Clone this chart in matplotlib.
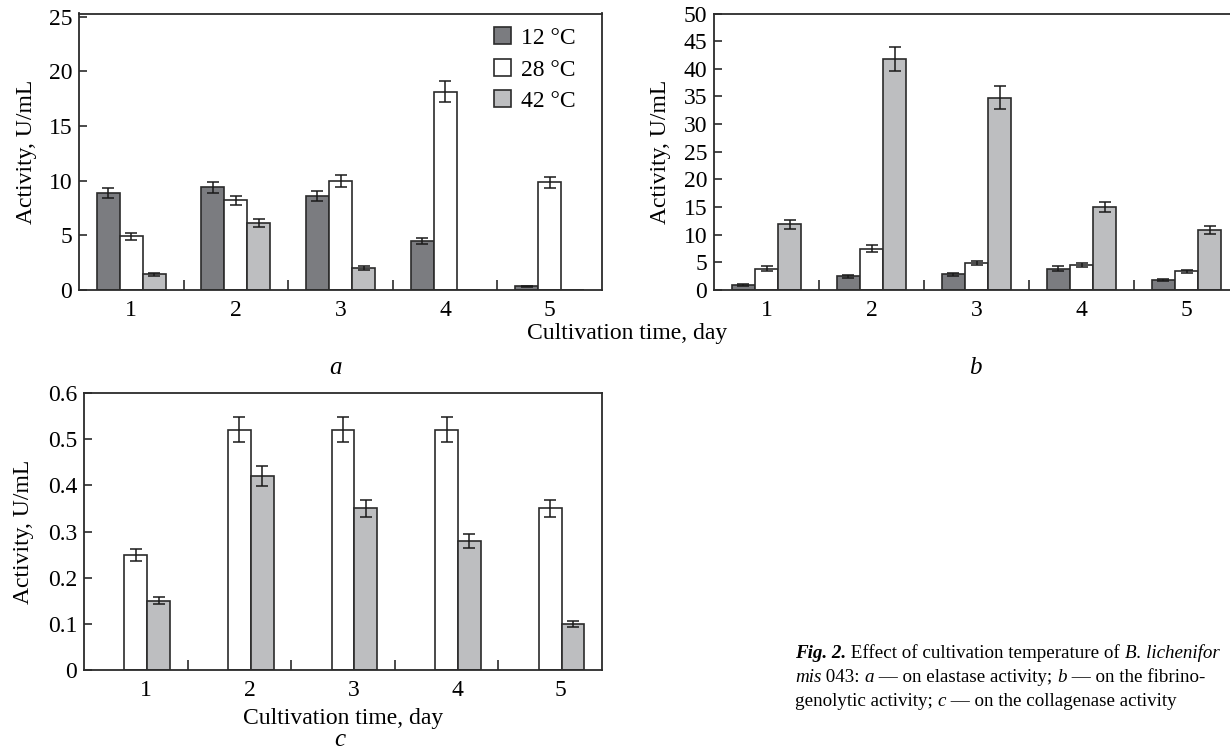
import numpy as np
import matplotlib
matplotlib.use("Agg")
import matplotlib.pyplot as plt
from matplotlib.ticker import FixedLocator

plt.rcParams['font.family'] = ['Liberation Serif', 'DejaVu Serif']

days = [1, 2, 3, 4, 5]
temps = ['12 °C', '28 °C', '42 °C']

# Panel a: elastase activity
a_12 = [8.85, 9.42, 8.62, 4.45, 0.34]
a_12_err = [0.45, 0.50, 0.48, 0.27, 0.06]
a_28 = [4.90, 8.20, 9.97, 18.15, 9.85]
a_28_err = [0.33, 0.44, 0.56, 0.98, 0.50]
a_42 = [1.45, 6.16, 2.02, 0.0, 0.0]
a_42_err = [0.15, 0.35, 0.15, 0.0, 0.0]

# Panel b: fibrinogenolytic activity
b_12 = [0.85, 2.50, 2.85, 3.85, 1.85]
b_12_err = [0.15, 0.30, 0.30, 0.48, 0.20]
b_28 = [3.85, 7.50, 4.90, 4.50, 3.40]
b_28_err = [0.42, 0.60, 0.40, 0.36, 0.30]
b_42 = [11.85, 41.75, 34.80, 15.00, 10.85]
b_42_err = [0.78, 2.17, 2.00, 0.87, 0.66]

# Panel c: collagenase activity
c_28 = [0.25, 0.52, 0.52, 0.52, 0.35]
c_28_err = [0.013, 0.027, 0.027, 0.027, 0.019]
c_42 = [0.15, 0.42, 0.35, 0.28, 0.10]
c_42_err = [0.008, 0.022, 0.018, 0.015, 0.006]

DARK = '#7b7c80'
WHITE = '#ffffff'
LIGHT = '#bdbec0'
EDGE = '#2b2b2b'
FS = 17

fig = plt.figure(figsize=(12.3, 7.5), dpi=100)
W, H = 1230.0, 750.0

def axes_px(left, top, right, bottom):
    return fig.add_axes([left / W, 1 - bottom / H, (right - left) / W, (bottom - top) / H])

ax_a = axes_px(79, 13.5, 602, 290)
ax_b = axes_px(714, 13.5, 1239, 290)
ax_c = axes_px(84, 393, 602, 670)

bw = 0.22
x = np.array(days, dtype=float)

def bars(ax, xs, vals, errs, color, label=None):
    ax.bar(xs, vals, width=bw, color=color, edgecolor=EDGE, linewidth=1.2,
           label=label, zorder=2)
    v = np.array(vals); e = np.array(errs)
    m = e > 0
    ax.errorbar(xs[m], v[m], yerr=e[m], fmt='none', ecolor='#1a1a1a',
                elinewidth=1.1, capsize=4.5, capthick=1.1, zorder=3)

def style(ax, ylim, yticks, yticklabels, label_shift=0.0):
    ax.set_xlim(0.5, 5.5)
    ax.set_ylim(*ylim)
    ax.set_yticks(yticks)
    ax.set_yticklabels(yticklabels)
    ax.xaxis.set_major_locator(FixedLocator(list(x + label_shift)))
    ax.set_xticklabels([str(d) for d in days])
    ax.xaxis.set_minor_locator(FixedLocator([1.5, 2.5, 3.5, 4.5]))
    ax.tick_params(axis='x', which='major', length=0, pad=7, labelsize=FS)
    ax.tick_params(axis='x', which='minor', direction='in', length=7, width=1.2, color='#2b2b2b')
    ax.tick_params(axis='y', which='major', direction='in', length=6, width=1.2,
                   color='#2b2b2b', pad=5, labelsize=FS)
    for s in ax.spines.values():
        s.set_linewidth(1.3)
        s.set_color('#2b2b2b')

# Panel a
bars(ax_a, x - bw, a_12, a_12_err, DARK, temps[0])
bars(ax_a, x, a_28, a_28_err, WHITE, temps[1])
bars(ax_a, x + bw, a_42, a_42_err, LIGHT, temps[2])
style(ax_a, (0, 25.3), [0, 5, 10, 15, 20, 25], ['0', '5', '10', '15', '20', '25'])
ax_a.set_ylabel('Activity, U/mL', fontsize=FS)
ax_a.yaxis.set_label_coords(-0.08, 0.5)
ax_a.legend(loc='upper left', bbox_to_anchor=(0.794, 0.95), frameon=False,
            fontsize=FS, handlelength=0.72, handleheight=0.72,
            handletextpad=0.4, labelspacing=0.42, borderaxespad=0, borderpad=0)

# Panel b
bars(ax_b, x - bw, b_12, b_12_err, DARK)
bars(ax_b, x, b_28, b_28_err, WHITE)
bars(ax_b, x + bw, b_42, b_42_err, LIGHT)
style(ax_b, (0, 50), list(range(0, 55, 5)), [str(v) for v in range(0, 55, 5)])
ax_b.set_ylabel('Activity, U/mL', fontsize=FS)
ax_b.yaxis.set_label_coords(-0.082, 0.5)

# Panel c
bars(ax_c, x, c_28, c_28_err, WHITE)
bars(ax_c, x + bw, c_42, c_42_err, LIGHT)
style(ax_c, (0, 0.6), [0, 0.1, 0.2, 0.3, 0.4, 0.5, 0.6],
      ['0', '0.1', '0.2', '0.3', '0.4', '0.5', '0.6'], label_shift=0.1)
ax_c.set_ylabel('Activity, U/mL', fontsize=FS)
ax_c.yaxis.set_label_coords(-0.097, 0.5)
ax_c.set_xlabel('Cultivation time, day', fontsize=FS, labelpad=5)

fig.text(627 / W, 1 - 334 / H, 'Cultivation time, day', fontsize=FS, ha='center', va='center')
fig.text(335 / W, 1 - 368 / H, 'a', fontsize=FS + 1, style='italic', ha='center', va='center')
fig.text(975 / W, 1 - 368 / H, 'b', fontsize=FS + 1, style='italic', ha='center', va='center')
fig.text(340 / W, 1 - 740 / H, 'c', fontsize=FS + 1, style='italic', ha='center', va='center')

# Caption with mixed styles
renderer = fig.canvas.get_renderer()
CFS = 13.7
def runs(x0, ybase, parts):
    xp = x0
    for txt, kw in parts:
        t = fig.text(xp / W, 1 - ybase / H, txt, fontsize=CFS, va='baseline', ha='left', **kw)
        bb = t.get_window_extent(renderer)
        xp += bb.width

N = {}
I = {'style': 'italic'}
BI = {'style': 'italic', 'weight': 'bold'}
runs(795, 658, [('Fig. 2.', BI), (' Effect of cultivation temperature of ', N), ('B. lichenifor', I)])
runs(795, 682, [('mis', I), (' 043: ', N), ('a', I), (' \u2014 on elastase activity; ', N), ('b', I),
                (' \u2014 on the fibrino-', N)])
runs(795, 706, [('genolytic activity; ', N), ('c', I), (' \u2014 on the collagenase activity', N)])

fig.savefig('out.png', dpi=100)
